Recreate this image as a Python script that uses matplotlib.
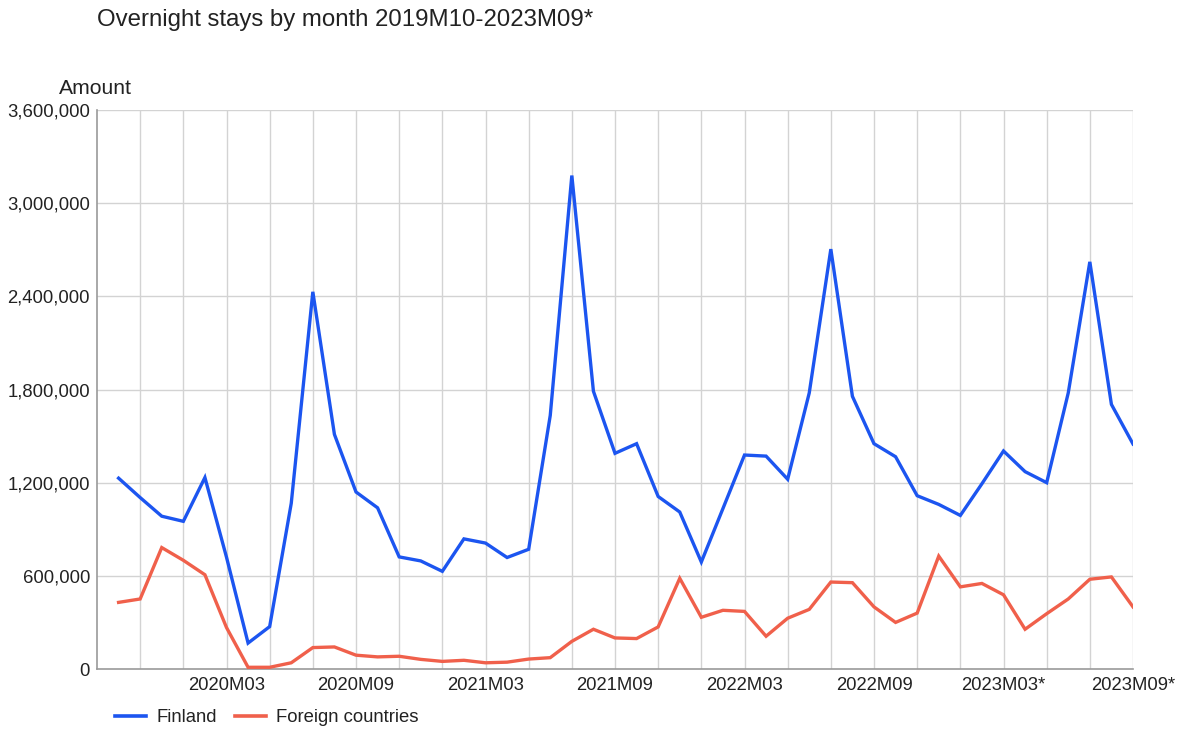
import matplotlib
matplotlib.use("Agg")
import matplotlib.pyplot as plt
from matplotlib.ticker import FuncFormatter, FixedLocator
from matplotlib.lines import Line2D

plt.rcParams['font.family'] = ['Liberation Sans', 'DejaVu Sans']

months = ["2019M10", "2019M11", "2019M12"] + \
    [f"{y}M{m:02d}" for y in (2020, 2021, 2022) for m in range(1, 13)] + \
    [f"2023M{m:02d}*" for m in range(1, 10)]

finland = [1229000, 1104000, 984000, 951000, 1233000, 720000, 167000, 273000,
           1067000, 2429000, 1511000, 1140000, 1038000, 722000, 696000, 629000,
           838000, 811000, 718000, 771000, 1633000, 3178000, 1789000, 1389000,
           1451000, 1111000, 1011000, 689000, 1033000, 1378000, 1371000, 1222000,
           1778000, 2704000, 1756000, 1451000, 1367000, 1116000, 1060000, 989000,
           1193000, 1404000, 1271000, 1200000, 1778000, 2622000, 1704000, 1449000]

foreign = [429000, 451000, 782000, 700000, 607000, 267000, 11000, 11000,
           40000, 138000, 142000, 89000, 78000, 82000, 62000, 49000,
           56000, 40000, 44000, 64000, 73000, 178000, 256000, 200000,
           196000, 271000, 584000, 333000, 378000, 371000, 211000, 327000,
           384000, 560000, 556000, 400000, 300000, 360000, 727000, 529000,
           551000, 478000, 256000, 356000, 451000, 578000, 593000, 400000]

series_names = ["Finland", "Foreign countries"]
colors = ["#1c55f0", "#f0604b"]
title = "Overnight stays by month 2019M10-2023M09*"
y_title = "Amount"
y_ticks = [0, 600000, 1200000, 1800000, 2400000, 3000000, 3600000]

W, H = 1181, 729
fig = plt.figure(figsize=(W / 100, H / 100), dpi=100)
L, R, T, B = 97, 1133, 110, 669
ax = fig.add_axes([L / W, (H - B) / H, (R - L) / W, (B - T) / H])

x = list(range(len(months)))
ax.plot(x, finland, color=colors[0], lw=2.4, solid_joinstyle='miter', zorder=3)
ax.plot(x, foreign, color=colors[1], lw=2.4, solid_joinstyle='miter', zorder=3)

ax.set_xlim(-1, len(months) - 1)
ax.set_ylim(0, 3600000)

ax.set_yticks(y_ticks)
ax.yaxis.set_major_formatter(FuncFormatter(lambda v, p: f"{int(v):,}"))
for v in y_ticks[1:]:
    ax.axhline(v, color="#d3d3d3", lw=1.0, zorder=1)
for i in range(1, len(months), 2):
    ax.axvline(i, color="#d3d3d3", lw=1.0, zorder=1)

label_idx = list(range(5, len(months), 6))
ax.xaxis.set_major_locator(FixedLocator(label_idx))
ax.set_xticklabels([months[i] for i in label_idx])

ax.tick_params(axis='both', length=0, labelsize=13.3, colors="#222222")
ax.tick_params(axis='y', pad=5)
ax.tick_params(axis='x', pad=6)

for s in ("top", "right"):
    ax.spines[s].set_visible(False)
ax.spines["left"].set_color("#9a9a9a")
ax.spines["bottom"].set_color("#9a9a9a")
ax.spines["left"].set_linewidth(1.2)
ax.spines["bottom"].set_linewidth(1.2)

fig.text(97 / W, 1 - 20 / H, title, fontsize=17.3, color="#222222", va="center", ha="left")
fig.text(59 / W, 1 - 88 / H, y_title, fontsize=15.2, color="#222222", va="center", ha="left")

handles = [Line2D([0], [0], color=c, lw=2.6) for c in colors]
leg = fig.legend(handles, series_names, loc="center left", bbox_to_anchor=(115 / W, 1 - 718 / H),
                 ncol=2, frameon=False, fontsize=13.3, handlelength=1.7, handletextpad=0.55,
                 columnspacing=0.95, borderaxespad=0, borderpad=0)
for t in leg.get_texts():
    t.set_color("#222222")

fig.savefig("out.png", dpi=100)
